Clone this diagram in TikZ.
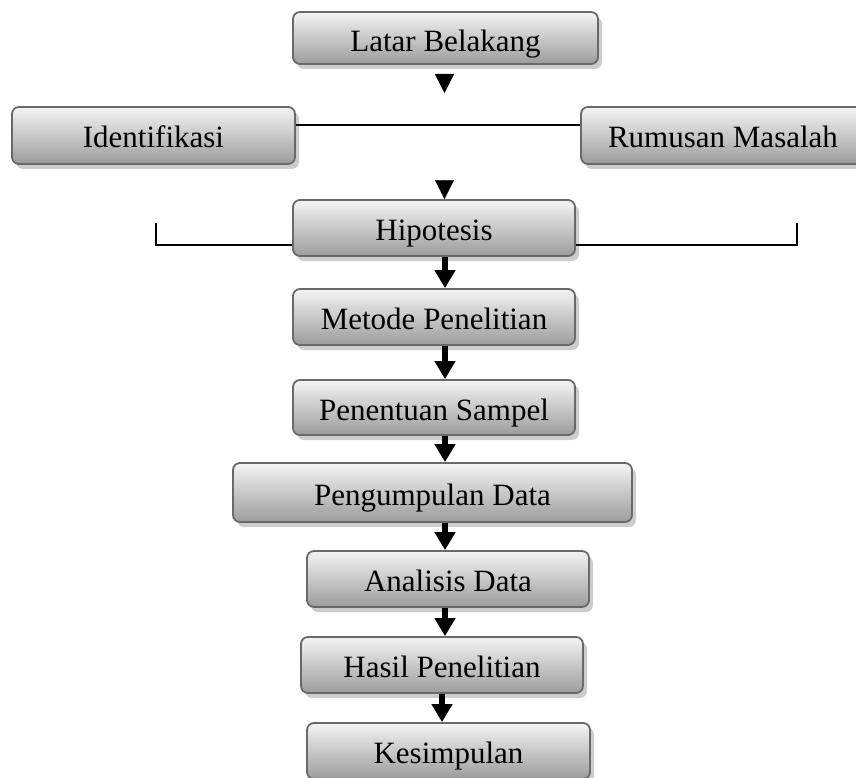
\documentclass[tikz,border=0pt]{standalone}
\usepackage{fontspec}
\setmainfont{Liberation Serif}
\usepackage{xcolor}
\usepackage{tikz}
\usetikzlibrary{positioning, arrows.meta, shadows}
\definecolor{boxedge}{HTML}{696969}
\definecolor{boxtop}{HTML}{F4F4F4}
\definecolor{boxbottom}{HTML}{9C9C9C}
\definecolor{boxshade}{HTML}{CDCDCD}

\tikzset{
  stage/.style={draw=boxedge, line width=1.8pt, rounded corners=7pt,
    top color=boxtop, bottom color=boxbottom, minimum height=56pt,
    minimum width=282pt, inner sep=0pt, text height=25pt, text depth=0pt,
    drop shadow={shadow xshift=4pt, shadow yshift=-5pt, fill=boxshade, opacity=1},
    font=\fontsize{31}{36}\selectfont},
  flow/.style={line width=6.5pt, -{Triangle[width=20pt, length=18pt]}},
  tiponly/.style={line width=0.4pt, -{Triangle[width=19pt, length=19pt]}},
  link/.style={line width=1.6pt, black}
}

\begin{document}
\begin{tikzpicture}[x=1pt, y=-1pt]
    \useasboundingbox (0,0) rectangle (856,778);

    % boxes
    \node[stage, minimum width=305pt, minimum height=52pt, text height=27pt] (latar) at (445.5,38) {Latar Belakang};
    \node[stage, minimum width=283pt, minimum height=57pt] (ident) at (153.5,135.5) {Identifikasi};
    \node[stage, minimum width=284pt, minimum height=57pt] (rumusan) at (723,135.5) {Rumusan Masalah};
    \node[stage] (hipotesis) at (434,228) {Hipotesis};
    \node[stage] (metode) at (434,317) {Metode Penelitian};
    \node[stage, minimum height=55pt] (sampel) at (434,407.5) {Penentuan Sampel};
    \node[stage, minimum width=399pt, minimum height=59pt] (kumpul) at (432.5,492.5) {Pengumpulan Data};
    \node[stage] (analisis) at (448,579) {Analisis Data};
    \node[stage] (hasil) at (442,665) {Hasil Penelitian};
    \node[stage, minimum width=283pt] (simpul) at (448.5,751) {Kesimpulan};

    % connectors
    \coordinate (axis) at (445,0);
    \coordinate (axisb) at (442,0);
    \coordinate (tipa) at (444.5,74);
    \coordinate (tipaend) at (444.5,93);
    \coordinate (tipb) at (444.5,181);

    \draw[tiponly] (tipa) -- (tipaend);
    \draw[link] ([yshift=10.5pt]ident.east) -- ([yshift=10.5pt]rumusan.west);
    \draw[tiponly] (tipb) -- (hipotesis.north -| tipb);
    \draw[link] ([yshift=-17pt]hipotesis.west) -| ++(-136,-22);
    \draw[link] ([yshift=-17pt]hipotesis.east) -| ++(221,-22);

    \draw[flow] (hipotesis.south -| axis) -- (metode.north -| axis);
    \draw[flow] (metode.south -| axis) -- (sampel.north -| axis);
    \draw[flow] (sampel.south -| axis) -- (kumpul.north -| axis);
    \draw[flow] (kumpul.south -| axis) -- (analisis.north -| axis);
    \draw[flow] (analisis.south -| axis) -- (hasil.north -| axis);
    \draw[flow] (hasil.south -| axisb) -- (simpul.north -| axisb);
\end{tikzpicture}
\end{document}
